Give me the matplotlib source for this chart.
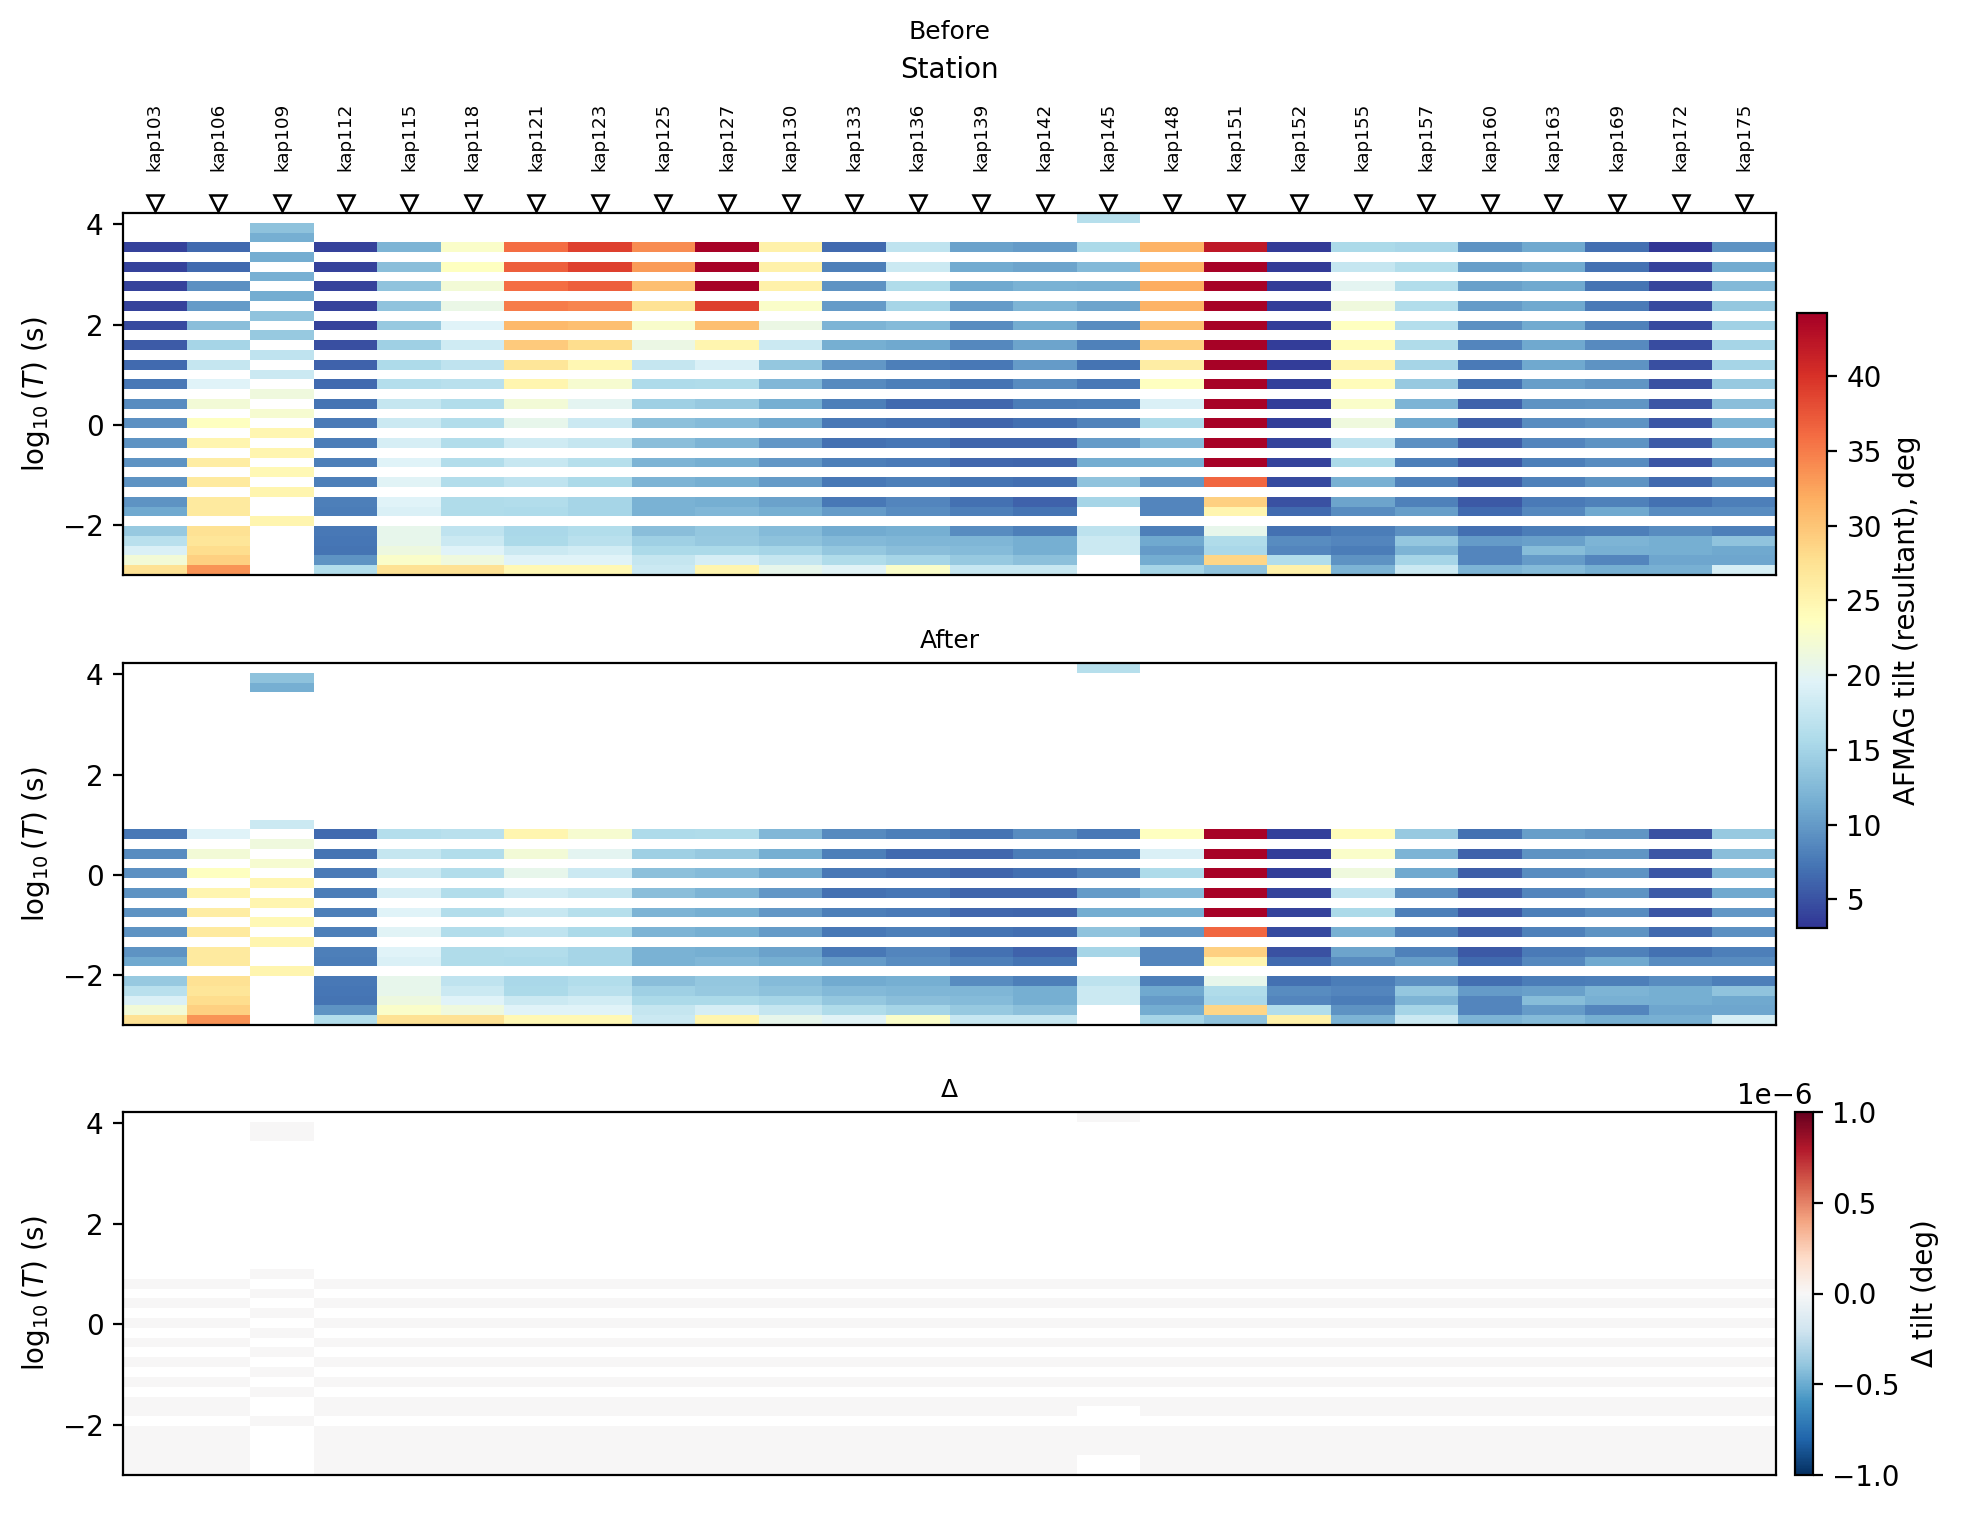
import numpy as np
import matplotlib
matplotlib.use('Agg')
import matplotlib.pyplot as plt

stations = ['kap103', 'kap106', 'kap109', 'kap112', 'kap115', 'kap118', 'kap121',
            'kap123', 'kap125', 'kap127', 'kap130', 'kap133', 'kap136', 'kap139',
            'kap142', 'kap145', 'kap148', 'kap151', 'kap152', 'kap155', 'kap157',
            'kap160', 'kap163', 'kap169', 'kap172', 'kap175']

# rows counted from the top of the panel, the data alternates with empty rows
n_rows = 37
common_rows = [3, 5, 7, 9, 11, 13, 15, 17, 19, 21, 23, 25, 27, 29, 30, 32, 33, 34, 35, 36]

# tilt (deg) on the common rows
kap103 = [4, 4, 4, 4, 4.5, 5.5, 6.5, 7.5, 9, 9.2, 9.5, 9.5, 9.5, 9.5, 11, 14, 16.5, 19, 22, 27.5]
kap106 = [6.5, 6.5, 9.2, 10, 13, 15, 17.5, 19.5, 22, 23.5, 25, 26, 26.5, 26.5, 26.5, 27.5, 27, 28, 29, 33.5]
kap112 = [4, 4, 4, 4, 4, 4.8, 6, 6.5, 7.2, 7.7, 7.9, 8, 8, 8, 7.8, 7.5, 7.3, 7.2, 9.5, 16]
kap115 = [12, 13, 13.5, 13.5, 14, 14.5, 15.7, 16.2, 17.5, 18, 18.8, 19.5, 19.7, 19.5, 19, 20.5, 20.5, 21.3, 23, 27.5]
kap118 = [23, 23.5, 22, 20.8, 19.5, 18.3, 17, 16.5, 16, 16, 16, 16, 16, 15.8, 15.8, 17, 18, 19.5, 21.5, 27.5]
kap121 = [36, 37, 36, 35, 31, 29.5, 27, 25, 22, 20.5, 18.3, 17.7, 17, 16, 15.7, 15.3, 15.5, 18, 19.5, 24.5]
kap123 = [39, 39, 37, 34.5, 30.5, 28, 24.7, 22.5, 20, 18, 17.5, 16.3, 15.5, 15, 15, 16, 16.5, 18.5, 19.5, 24.5]
kap125 = [34, 33, 30.5, 27.5, 22.8, 21, 17.5, 15.7, 14.5, 13.2, 13, 12, 12, 11.8, 11.8, 13, 14.5, 15.5, 17.5, 18]
kap127 = [44, 44, 44, 39, 30.5, 25, 19, 15.8, 14, 12.7, 12, 11.5, 11.5, 11.5, 12.3, 13.7, 14, 15.5, 18.7, 25]
kap130 = [25.5, 25.5, 25.5, 23, 21, 18, 13.7, 12.3, 11.5, 11, 9.7, 9.7, 10, 10.5, 11.5, 12.7, 13.3, 15, 17.5, 20.5]
kap133 = [6.5, 8, 9.5, 10, 12, 11.5, 9.7, 8.8, 8, 7.5, 7, 8, 7.5, 7.5, 10, 11.2, 12.5, 13.7, 15.8, 19.7]
kap136 = [17, 18, 15.8, 15, 12.7, 11, 8, 8, 6.5, 7, 7.4, 7.7, 8, 8.5, 9, 11.5, 12.2, 13, 15, 23]
kap139 = [10.5, 11.2, 11, 10, 9, 8.7, 7.5, 7.2, 6.3, 6.2, 6.2, 6.3, 7.2, 7, 8, 9, 12.2, 12.7, 14, 17.7]
kap142 = [10, 10.7, 11.8, 12, 11.3, 10.7, 10, 9, 7.8, 6.8, 6.2, 6.2, 6.8, 6, 7.2, 8, 11.5, 11.5, 13.2, 17.7]
kap148 = [31.5, 31.5, 32, 31.5, 30.5, 29, 26, 23.5, 19, 15.7, 12.7, 11.5, 9.7, 8.5, 8.5, 8, 11, 10, 11.3, 15]
kap151 = [42, 44, 44, 44, 44, 44, 44, 44, 44, 44, 44, 44, 36.5, 29, 25, 20.5, 15.8, 15.3, 28.5, 13.5]
kap152 = [3.5, 3.5, 3.5, 3.7, 3.7, 3.7, 3.7, 3.8, 3.7, 3.7, 3.9, 4, 4.5, 5, 6.5, 7, 9, 8.5, 16, 25.5]
kap155 = [15.5, 17.5, 20, 21.5, 23.5, 24, 25, 24, 23, 21.5, 17, 15.5, 11.7, 10.7, 9, 7.8, 8.5, 7.8, 9.5, 12]
kap157 = [15.2, 16, 16, 16, 16.2, 15.8, 15, 14, 12, 11, 9.3, 8, 8.2, 8.2, 10.3, 9.3, 13.8, 12, 15, 18]
kap160 = [9.5, 10.2, 10.4, 10, 9.2, 8.5, 7.6, 7, 6, 5.7, 5.7, 5.4, 5.8, 5.4, 6.5, 6.8, 10, 8.5, 8.5, 12]
kap163 = [11, 11.2, 11, 11, 11.2, 11, 11, 10.3, 9.5, 9, 8.5, 8, 8.2, 7.7, 8.6, 7.8, 10.4, 12.8, 10, 12.7]
kap169 = [6.8, 7, 7.2, 7.7, 8.1, 8.8, 9.4, 9.6, 9.6, 9.4, 9.5, 9, 9.4, 8.2, 11, 8, 12, 11.7, 8.5, 11.5]
kap172 = [3.2, 4, 4.2, 4.5, 4.5, 4.6, 4.8, 5, 5.3, 5.2, 5.6, 5.3, 6.5, 7, 9, 9, 11.5, 11.5, 10.8, 11.7]
kap175 = [9.5, 11.2, 12.5, 13.8, 14.7, 15, 15, 14, 13, 12, 11, 9.7, 9.3, 8, 9, 8, 13.5, 11, 10.8, 18.7]

# the two stations that sit on other rows
kap109_rows = [1, 2, 4, 6, 8, 10, 12, 14, 16, 18, 20, 22, 24, 26, 28, 31]
kap109 = [13.3, 11.5, 11.3, 11.7, 11.3, 13.5, 14, 17, 18, 21.5, 22.5, 24.8, 25, 24.5, 25, 25]
kap145_rows = [0, 3, 5, 7, 9, 11, 13, 15, 17, 19, 21, 23, 25, 27, 29, 32, 33, 34]
kap145 = [16.3, 15.5, 12.5, 11.7, 10.7, 9, 8.2, 7.1, 7.5, 8, 8.3, 10, 11.3, 13.5, 15, 16.8, 18, 18]

# "After" drops these rows
removed_rows = list(range(3, 16))

series = {'kap103': kap103, 'kap106': kap106, 'kap112': kap112, 'kap115': kap115,
          'kap118': kap118, 'kap121': kap121, 'kap123': kap123, 'kap125': kap125,
          'kap127': kap127, 'kap130': kap130, 'kap133': kap133, 'kap136': kap136,
          'kap139': kap139, 'kap142': kap142, 'kap148': kap148, 'kap151': kap151,
          'kap152': kap152, 'kap155': kap155, 'kap157': kap157, 'kap160': kap160,
          'kap163': kap163, 'kap169': kap169, 'kap172': kap172, 'kap175': kap175}

before = np.full((n_rows, len(stations)), np.nan)
for name, vals in series.items():
    before[common_rows, stations.index(name)] = vals
before[kap109_rows, stations.index('kap109')] = kap109
before[kap145_rows, stations.index('kap145')] = kap145

after = before.copy()
after[removed_rows, :] = np.nan
delta = after - before

x_edges = np.arange(len(stations) + 1) - 0.5
y_edges = np.linspace(4.226, -3.0, n_rows + 1)
x_centers = np.arange(len(stations))

W, H = 1965, 1513
fig = plt.figure(figsize=(W / 200, H / 200), dpi=200)


def add_axes_px(x0, y0, x1, y1):
    return fig.add_axes([x0 / W, 1 - y1 / H, (x1 - x0) / W, (y1 - y0) / H])


ax1 = add_axes_px(123, 213, 1776, 575)
ax2 = add_axes_px(123, 663, 1776, 1025)
ax3 = add_axes_px(123, 1112, 1776, 1475)

vmin, vmax = 3.08, 44.24
im1 = ax1.pcolormesh(x_edges, y_edges, before, cmap='RdYlBu_r', vmin=vmin, vmax=vmax)
im2 = ax2.pcolormesh(x_edges, y_edges, after, cmap='RdYlBu_r', vmin=vmin, vmax=vmax)
im3 = ax3.pcolormesh(x_edges, y_edges, delta, cmap='RdBu_r', vmin=-1e-6, vmax=1e-6)

for ax in (ax1, ax2, ax3):
    ax.set_xlim(-0.5, len(stations) - 0.5)
    ax.set_ylim(-3.0, 4.226)
    ax.set_yticks([-2, 0, 2, 4])
    ax.set_ylabel(r'$\log_{10}(T)$ (s)')
    ax.set_xticks([])

ax1.xaxis.set_ticks_position('top')
ax1.xaxis.set_label_position('top')
ax1.set_xticks(x_centers)
ax1.set_xticklabels(stations, rotation=90, fontsize=6.6)
ax1.tick_params(axis='x', length=0, pad=15)
ax1.set_xlabel('Station', labelpad=9)
ax1.plot(x_centers, np.full(len(stations), 1.027), 'v', ms=6, mfc='none', mec='k',
         mew=0.9, clip_on=False, transform=ax1.get_xaxis_transform())

ax1.set_title('Before', fontsize=9, pad=6)
ax2.set_title('After', fontsize=9, pad=5.5)
ax3.set_title('Δ', fontsize=9, pad=5.5)

cax1 = add_axes_px(1797, 313, 1827, 928)
cb1 = fig.colorbar(im1, cax=cax1)
cb1.set_label('AFMAG tilt (resultant), deg')

cax3 = add_axes_px(1795, 1112, 1813, 1475)
cb3 = fig.colorbar(im3, cax=cax3)
cb3.set_label('Δ tilt (deg)')

fig.savefig('out.png', dpi=200)
